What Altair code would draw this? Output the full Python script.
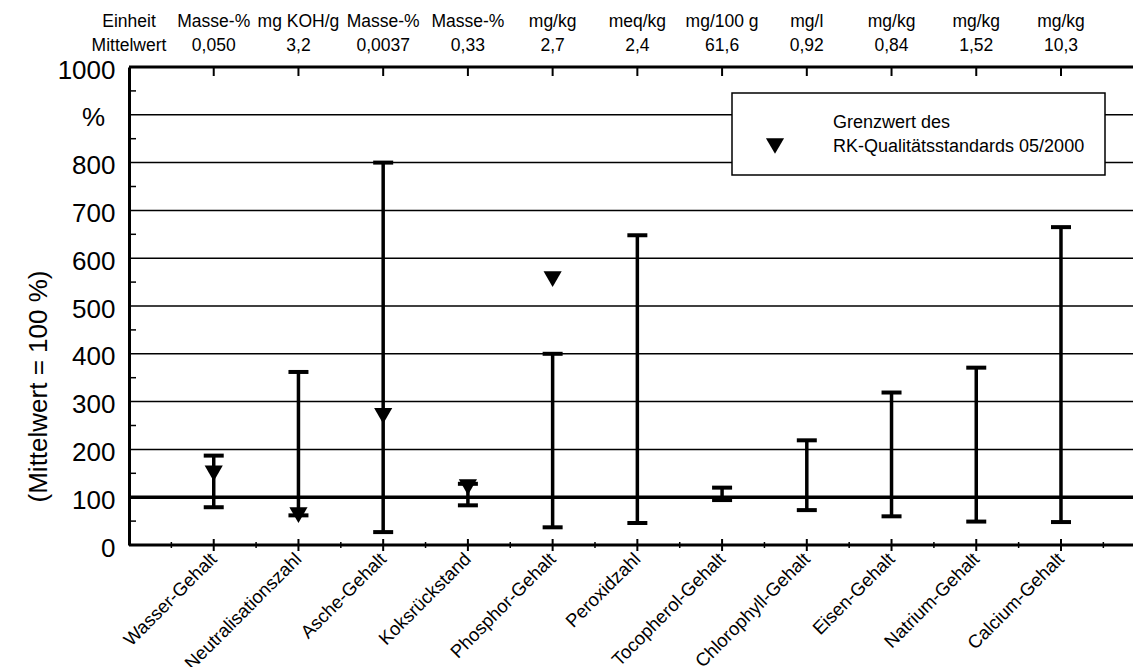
import altair as alt
import pandas as pd

# Parameters (x order) and their reference values
categories = ["Wasser-Gehalt", "Neutralisationszahl", "Asche-Gehalt", "Koksrückstand",
              "Phosphor-Gehalt", "Peroxidzahl", "Tocopherol-Gehalt", "Chlorophyll-Gehalt",
              "Eisen-Gehalt", "Natrium-Gehalt", "Calcium-Gehalt"]
units = ["Masse-%", "mg KOH/g", "Masse-%", "Masse-%", "mg/kg", "meq/kg",
         "mg/100 g", "mg/l", "mg/kg", "mg/kg", "mg/kg"]
means = ["0,050", "3,2", "0,0037", "0,33", "2,7", "2,4", "61,6", "0,92", "0,84", "1,52", "10,3"]

# Range of measured values in % of the mean
minimum = [79, 62, 27, 83, 37, 46, 94, 73, 60, 49, 48]
maximum = [187, 362, 800, 128, 400, 648, 120, 219, 319, 371, 665]

# Limit values of the quality standard in % of the mean
limit_categories = ["Wasser-Gehalt", "Neutralisationszahl", "Asche-Gehalt",
                    "Koksrückstand", "Phosphor-Gehalt"]
limit_values = [150, 62.5, 270, 121, 556]

FONT = "Liberation Sans, Arial, Helvetica, sans-serif"
W, H = 1004, 478

pos = {c: i + 1 for i, c in enumerate(categories)}
bars = pd.DataFrame({"pos": [pos[c] for c in categories], "value": minimum,
                     "hi": maximum, "name": categories})
caps = pd.DataFrame({"pos": [pos[c] for c in categories] * 2, "value": minimum + maximum})
limits = pd.DataFrame({"pos": [pos[c] for c in limit_categories], "value": limit_values})
header = pd.DataFrame({"pos": list(range(len(categories) + 1)),
                       "unit": ["Einheit"] + units, "mean": ["Mittelwert"] + means})
grid = pd.DataFrame({"value": [200, 300, 400, 500, 600, 700, 800, 900]})
minor_y = pd.DataFrame({"value": [v + 50 for v in range(0, 1000, 100)]})
major_x = pd.DataFrame({"pos": list(range(1, len(categories) + 1))})
minor_x = pd.DataFrame({"pos": [p + 0.5 for p in range(0, len(categories) + 1)]})

xs = alt.Scale(domain=[0, 11.85], nice=False, zero=False)
ys = alt.Scale(domain=[0, 1000], nice=False)
X = alt.X("pos:Q", scale=xs, axis=None)

# One shared left axis definition used by every layer
y_axis = alt.Axis(values=list(range(0, 1001, 100)), format="d",
                  labelExpr="datum.value == 900 ? '' : datum.label",
                  ticks=False, grid=False, domain=True, domainWidth=3, domainColor="black",
                  labelFont=FONT, labelFontSize=26, labelColor="black", labelPadding=14,
                  labelOffset=3,
                  title="(Mittelwert = 100 %)", titleFont=FONT, titleFontSize=26,
                  titleFontWeight="normal", titleColor="black", titleAngle=270,
                  titleX=-91, titleY=319, titleAlign="center", titleBaseline="middle")
Y = alt.Y("value:Q", scale=ys, axis=y_axis)

gridlines = alt.Chart(grid).mark_rule(color="black", strokeWidth=1.5).encode(y=Y)
hundred = alt.Chart(pd.DataFrame({"value": [100]})).mark_rule(
    color="black", strokeWidth=3.5).encode(y=Y)
frame = alt.Chart(pd.DataFrame({"value": [0, 1000]})).mark_rule(
    color="black", strokeWidth=3).encode(y=Y)
percent = alt.Chart(pd.DataFrame({"value": [900]})).mark_text(
    text="%", font=FONT, fontSize=26, align="right", baseline="middle", color="black",
    dy=3).encode(y=Y, x=alt.value(-24))

ytick_minor = alt.Chart(minor_y).mark_rule(color="black", strokeWidth=1.5).encode(
    y=Y, x=alt.value(0), x2=alt.value(7))
xtick_major = alt.Chart(major_x).mark_rule(color="black", strokeWidth=2).encode(
    x=X, y=alt.value(H - 6), y2=alt.value(H + 6))
xtick_minor = alt.Chart(minor_x).mark_rule(color="black", strokeWidth=1.5).encode(
    x=X, y=alt.value(H - 3), y2=alt.value(H + 3))
top_ticks = alt.Chart(major_x).mark_rule(color="black", strokeWidth=2).encode(
    x=X, y=alt.value(0), y2=alt.value(9))

# Legend box
legend_box = alt.Chart(pd.DataFrame({"k": [0]})).mark_rect(
    fill="white", stroke="black", strokeWidth=1.5).encode(
    x=alt.value(603), x2=alt.value(976), y=alt.value(26), y2=alt.value(108))
legend_sym = alt.Chart(pd.DataFrame({"k": [0]})).mark_point(
    shape="triangle-down", filled=True, color="black", opacity=1, size=330).encode(
    x=alt.value(646), y=alt.value(79))
legend_text = alt.Chart(pd.DataFrame({
    "t": ["Grenzwert des", "RK-Qualitätsstandards 05/2000"], "yy": [56, 80]})).mark_text(
    font=FONT, fontSize=18, align="left", baseline="middle", color="black").encode(
    text="t:N", x=alt.value(704), y=alt.Y("yy:Q", scale=None))

# Range bars
stems = alt.Chart(bars).mark_rule(color="black", strokeWidth=3.5).encode(
    x=X, y=Y, y2="hi:Q")
cap_marks = alt.Chart(caps).mark_tick(
    color="black", orient="horizontal", size=20, thickness=4, opacity=1).encode(x=X, y=Y)
limit_marks = alt.Chart(limits).mark_point(
    shape="triangle-down", filled=True, color="black", opacity=1, size=330).encode(x=X, y=Y)

# Header rows and category labels
unit_text = alt.Chart(header).mark_text(
    font=FONT, fontSize=17.5, baseline="alphabetic", align="center", color="black").encode(
    x=X, y=alt.value(-40), text="unit:N")
mean_text = alt.Chart(header).mark_text(
    font=FONT, fontSize=17.5, baseline="alphabetic", align="center", color="black").encode(
    x=X, y=alt.value(-16), text="mean:N")
cat_text = alt.Chart(bars).mark_text(
    font=FONT, fontSize=18.5, angle=315, align="right", baseline="middle", color="black").encode(
    x=X, y=alt.value(H + 11), text="name:N")

chart = alt.layer(
    gridlines, legend_box, hundred, frame, percent, ytick_minor, xtick_major, xtick_minor,
    top_ticks, stems, cap_marks, limit_marks, legend_sym, legend_text,
    unit_text, mean_text, cat_text
).properties(
    width=W, height=H,
    autosize=alt.AutoSizeParams(type="none"),
    padding={"left": 129, "top": 67, "right": 1, "bottom": 122},
    background="white"
).configure_view(stroke=None)

chart.save("out.html", embed_options={"renderer": "svg", "actions": False})
